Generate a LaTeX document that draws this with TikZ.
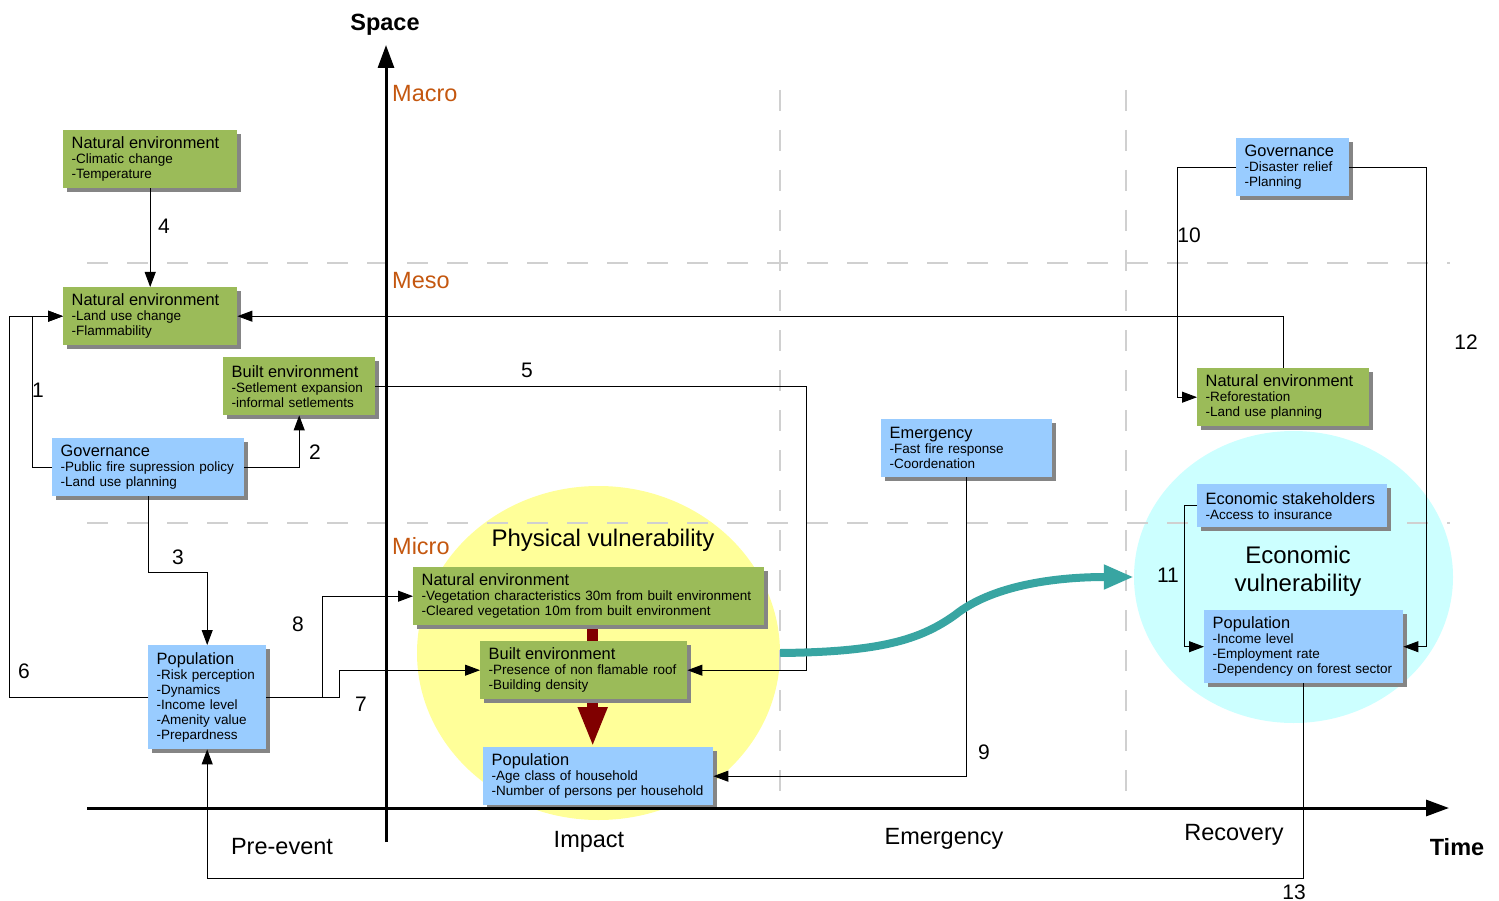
\documentclass[tikz,border=0pt]{standalone}
\usepackage{fontspec}
\setmainfont{Liberation Sans}
\usetikzlibrary{arrows.meta,shapes.geometric,shadows}
\definecolor{boxgreen}{HTML}{9BBB59}
\definecolor{boxblue}{HTML}{99CCFF}
\definecolor{shadowgray}{HTML}{858585}
\definecolor{physyellow}{HTML}{FFFF99}
\definecolor{ecocyan}{HTML}{CCFFFF}
\definecolor{levelorange}{HTML}{C4570F}
\definecolor{gridgray}{HTML}{D0D0D0}
\definecolor{impactred}{HTML}{800000}
\definecolor{flowteal}{HTML}{38A5A2}
\pgfdeclarelayer{back}
\pgfdeclarelayer{under}
\pgfsetlayers{back,under,main}
\newcommand{\bt}[1]{{\fontsize{16.4}{15}\selectfont #1}}

\begin{document}
\begin{tikzpicture}[x=1pt,y=-1pt,
    box/.style={anchor=north west, align=left, inner xsep=8.5pt, inner ysep=0pt,
      font=\fontsize{13.5}{15}\selectfont,
      drop shadow={shadow xshift=4pt,shadow yshift=-4pt,fill=shadowgray,opacity=1}},
    greenbox/.style 2 args={box, fill=boxgreen, text width=#1, minimum height=#2},
    bluebox/.style 2 args={box, fill=boxblue, text width=#1, minimum height=#2},
    conn/.style={-{Triangle[length=15pt,width=11pt]}, line width=1pt},
    num/.style={font=\fontsize{21}{24}\selectfont, inner sep=0pt},
    phase/.style={font=\fontsize{23.5}{26}\selectfont, inner sep=0pt},
    level/.style={font=\fontsize{23.5}{26}\selectfont, text=levelorange, anchor=west, inner sep=0pt},
    axislabel/.style={font=\fontsize{23.5}{26}\selectfont\bfseries, inner sep=0pt},
    vuln/.style={font=\fontsize{24}{28}\selectfont, align=center, inner sep=0pt},
    gridline/.style={gridgray, line width=1.6pt, dash pattern=on 21pt off 19pt},
    axisline/.style={line width=3pt, -{Triangle[length=23pt,width=16pt]}},
    impact/.style={impactred, line width=11pt, -{Triangle[length=40pt,width=27pt]}},
    flow/.style={flowteal, line width=8pt, -{Triangle[length=30pt,width=23pt]}}]
  \useasboundingbox (0,0) rectangle (1499,901);

  \begin{pgfonlayer}{back}
    \node[ellipse, fill=physyellow, minimum width=363pt, minimum height=334pt] (physell) at (598.5,653) {};
    \node[ellipse, fill=ecocyan, minimum width=319pt, minimum height=292pt] (ecoell) at (1293.5,577) {};
    \draw[gridline] (87,263) -- (1450,263);
    \draw[gridline] (87,523) -- (1450,523);
    \draw[gridline] (780,90) -- (780,808);
    \draw[gridline] (1126,90) -- (1126,808);
  \end{pgfonlayer}

  \node[greenbox={157pt}{58pt}] (neclim) at (63,130) {\bt{Natural environment}\\-Climatic change\\-Temperature};
  \node[greenbox={157pt}{58pt}] (neland) at (63,287) {\bt{Natural environment}\\-Land use change\\-Flammability};
  \node[greenbox={135pt}{58pt}] (bebuilt) at (223,357) {\bt{Built environment}\\-Setlement expansion\\-informal setlements};
  \node[bluebox={175pt}{58pt}] (govfire) at (52,438) {\bt{Governance}\\-Public fire supression policy\\-Land use planning};
  \node[bluebox={101pt}{104pt}] (popfire) at (148,645) {\bt{Population}\\-Risk perception\\-Dynamics\\-Income level\\-Amenity value\\-Prepardness};
  \node[greenbox={334pt}{58pt}] (nevege) at (413,567) {\bt{Natural environment}\\-Vegetation characteristics 30m from built environment\\-Cleared vegetation 10m from built environment};
  \node[greenbox={190pt}{58pt}] (beroof) at (480,641) {\bt{Built environment}\\-Presence of non flamable roof\\-Building density};
  \node[bluebox={213pt}{58pt}] (pophouse) at (483,747) {\bt{Population}\\-Age class of household\\-Number of persons per household};
  \node[bluebox={154pt}{58pt}] (emerg) at (881,419) {\bt{Emergency}\\-Fast fire response\\-Coordenation};
  \node[bluebox={96pt}{58pt}] (govrelief) at (1236,138) {\bt{Governance}\\-Disaster relief\\-Planning};
  \node[greenbox={155pt}{58pt}] (nerefor) at (1197,368) {\bt{Natural environment}\\-Reforestation\\-Land use planning};
  \node[bluebox={173pt}{43pt}] (ecostake) at (1197,484) {\bt{Economic stakeholders}\\-Access to insurance};
  \node[bluebox={182pt}{73pt}] (popeco) at (1204,610) {\bt{Population}\\-Income level\\-Employment rate\\-Dependency on forest sector};

  \node[vuln] (physlab) at (603,540) {Physical vulnerability};
  \node[vuln] (ecolab) at (1298,571) {Economic\\vulnerability};

  \node[level] (macro) at (392,94) {Macro};
  \node[level] (meso) at (392,281) {Meso};
  \node[level] (micro) at (392,546) {Micro};

  \node[phase] (preevent) at (282,847) {Pre-event};
  \node[phase] (impactlab) at (589,842) {Impact};
  \node[phase] (emerglab) at (944,839) {Emergency};
  \node[phase] (recovlab) at (1234,835) {Recovery};
  \node[axislabel] (spacelab) at (385,25) {Space};
  \node[axislabel] (timelab) at (1457,847) {Time};

  \node[num] (l1) at (38,390) {1};
  \node[num] (l2) at (315,452) {2};
  \node[num] (l3) at (178,557) {3};
  \node[num] (l4) at (164,226) {4};
  \node[num] (l5) at (527,370) {5};
  \node[num] (l6) at (24,671) {6};
  \node[num] (l7) at (361,704) {7};
  \node[num] (l8) at (298,624) {8};
  \node[num] (l9) at (984,752) {9};
  \node[num] (l10) at (1189,235) {10};
  \node[num] (l11) at (1168,575) {11};
  \node[num] (l12) at (1466,342) {12};
  \node[num] (l13) at (1294,892) {13};

  \coordinate (redtop) at ([xshift=4pt]nevege.south);
  \coordinate (redtip) at (redtop |- pophouse.north);
  \begin{pgfonlayer}{under}
    \draw[impact] (redtop) -- (redtip);
  \end{pgfonlayer}

  \begin{scope}[conn]
    \draw (neclim) -- (neland);
    \draw (govfire.west) -- ++(-20,0) |- (neland.west);
    \draw (popfire.west) -- ++(-139,0) |- (neland.west);
    \draw (govfire.east) -| (bebuilt.south);
    \draw (govfire.south) -- ++(0,76) -| (popfire.north);
    \draw (bebuilt.east) -- ++(431,0) |- (beroof.east);
    \draw (popfire.east) -- ++(56,0) |- (nevege.west);
    \draw (popfire.east) -- ++(73,0) |- (beroof.west);
    \draw (emerg.south) |- (pophouse.east);
    \draw (govrelief.west) -- ++(-59,0) |- (nerefor.west);
    \draw (govrelief.east) -- ++(77,0) |- (popeco.east);
    \draw (nerefor.north) |- (neland.east);
    \draw (ecostake.west) -- ++(-13,0) |- (popeco.west);
    \draw (popeco.south) -- ++(0,195) -| (popfire.south);
  \end{scope}

  \draw[flow] (physell.east) .. controls (880,652) and (920,640) .. (955,615)
    .. controls (990,587) and (1050,577) .. (ecoell.west);

  \coordinate (ybot) at (386,842);
  \coordinate (ytop) at (386,45);
  \coordinate (xleft) at (87,808);
  \coordinate (xright) at (1449,808);
  \draw[axisline] (ybot) -- (ytop);
  \draw[axisline] (xleft) -- (xright);
\end{tikzpicture}
\end{document}
